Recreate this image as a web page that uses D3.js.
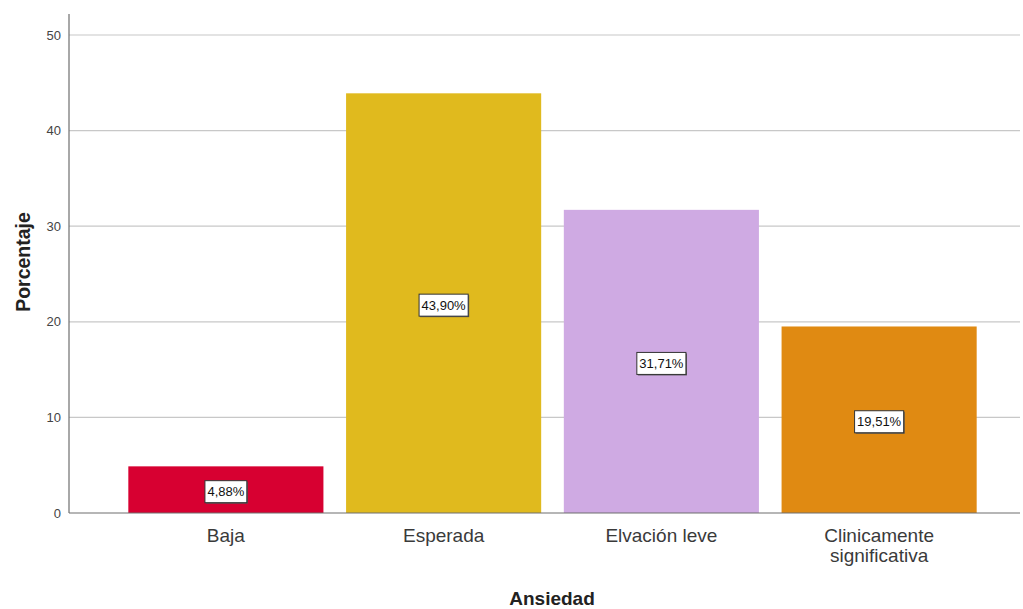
<!DOCTYPE html>
<html>
<head>
<meta charset="utf-8">
<script src="https://cdn.jsdelivr.net/npm/d3@7"></script>
<style>
  body { margin: 0; background: #fff; }
  svg { display: block; font-family: Arial, "Liberation Sans", sans-serif; }
</style>
</head>
<body>
<svg id="chart" width="1023" height="609"></svg>
<script>
// Distribution of anxiety levels (percent of respondents)
const categories = ["Baja", "Esperada", "Elvación leve", "Clinicamente significativa"];
const percentages = [4.88, 43.90, 31.71, 19.51];
const barColors = ["#d70031", "#e0ba1e", "#cfaae3", "#e08a12"];
const yTicks = [0, 10, 20, 30, 40, 50];

const svg = d3.select("#chart");
const axisLeft = 69, axisRight = 1020, axisBottom = 513, axisTop = 14;

const y = d3.scaleLinear().domain([0, 50]).range([axisBottom, 35]);
const x = d3.scaleBand().domain(categories).range([117, 988]).paddingInner(0.104).paddingOuter(0.052);

// Gridlines
svg.append("g").selectAll("line").data(yTicks.filter(d => d > 0)).join("line")
  .attr("x1", axisLeft).attr("x2", axisRight)
  .attr("y1", d => y(d)).attr("y2", d => y(d))
  .attr("stroke", "#c8c8c8").attr("stroke-width", 1.2);

// Y tick labels
svg.append("g").selectAll("text").data(yTicks).join("text")
  .attr("x", 61).attr("y", d => y(d)).attr("dy", "0.36em")
  .attr("text-anchor", "end").attr("font-size", 13).attr("fill", "#444")
  .text(d => d);

// Bars
svg.append("g").selectAll("rect").data(categories).join("rect")
  .attr("x", d => x(d)).attr("width", x.bandwidth())
  .attr("y", (d, i) => y(percentages[i]))
  .attr("height", (d, i) => y(0) - y(percentages[i]))
  .attr("fill", (d, i) => barColors[i]);

// Axes lines
svg.append("line").attr("x1", axisLeft).attr("x2", axisLeft).attr("y1", axisTop).attr("y2", axisBottom)
  .attr("stroke", "#6e6e6e").attr("stroke-width", 1.2);
svg.append("line").attr("x1", axisLeft).attr("x2", axisRight).attr("y1", axisBottom).attr("y2", axisBottom)
  .attr("stroke", "#6e6e6e").attr("stroke-width", 1.2);

// Value labels in boxes, placed at mid-height of each bar
const fmt = v => d3.format(".2f")(v).replace(".", ",") + "%";
const labels = svg.append("g").selectAll("g").data(categories).join("g")
  .attr("transform", (d, i) => `translate(${x(d) + x.bandwidth() / 2},${y(percentages[i] / 2) + 2})`);
labels.each(function (d, i) {
  const g = d3.select(this);
  const t = g.append("text").attr("text-anchor", "middle").attr("dy", "0.36em")
    .attr("font-size", 13).attr("fill", "#111").text(fmt(percentages[i]));
  const w = t.node().getComputedTextLength() + 5, h = 22;
  g.insert("rect", "text").attr("x", -w / 2 + 1).attr("y", -h / 2 + 1).attr("width", w).attr("height", h)
    .attr("fill", "#555");
  g.insert("rect", "text").attr("x", -w / 2).attr("y", -h / 2).attr("width", w).attr("height", h)
    .attr("fill", "#fff").attr("stroke", "#333").attr("stroke-width", 1);
});

// X category labels (wrapped)
const xLab = svg.append("g").selectAll("text").data(categories).join("text")
  .attr("x", d => x(d) + x.bandwidth() / 2).attr("y", 542)
  .attr("text-anchor", "middle").attr("font-size", 19).attr("fill", "#3a3a3a");
xLab.each(function (d) {
  const words = d === "Clinicamente significativa" ? ["Clinicamente", "significativa"] : [d];
  d3.select(this).selectAll("tspan").data(words).join("tspan")
    .attr("x", x(d) + x.bandwidth() / 2).attr("dy", (w, i) => i === 0 ? 0 : 20).text(w => w);
});

// Axis titles
svg.append("text").attr("x", 552).attr("y", 605).attr("text-anchor", "middle")
  .attr("font-size", 19).attr("font-weight", "bold").attr("fill", "#222").text("Ansiedad");
svg.append("text").attr("transform", "translate(30,262) rotate(-90)").attr("text-anchor", "middle")
  .attr("font-size", 19.5).attr("font-weight", "bold").attr("fill", "#222").text("Porcentaje");
</script>
</body>
</html>
